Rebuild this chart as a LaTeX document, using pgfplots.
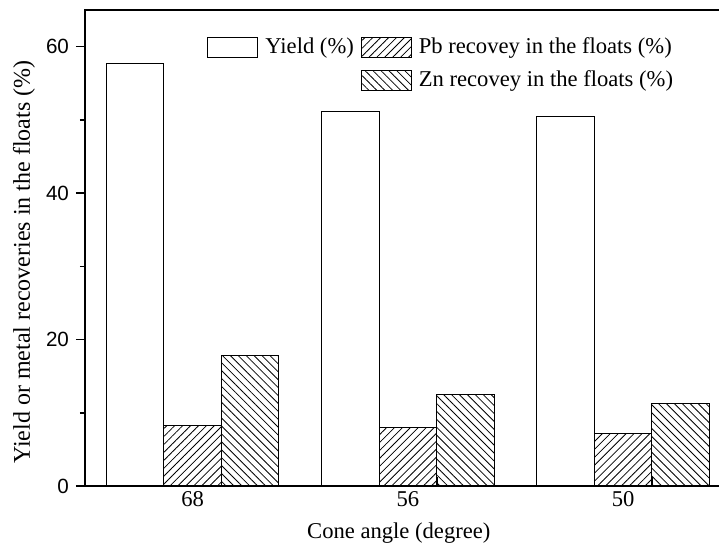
\documentclass[border=0pt]{standalone}
\usepackage{fontspec}
\setmainfont{Liberation Serif}
\newfontfamily\arialfont{Liberation Sans}
\usepackage{pgfplots}
\pgfplotsset{compat=1.18}
\usetikzlibrary{patterns.meta}

\begin{document}
\begin{tikzpicture}
\begin{axis}[
    name=ax,
    scale only axis,
    width=317pt, height=238pt,
    xmin=0.5, xmax=3.445,
    ymin=0, ymax=65,
    ybar, bar width=0.267,
    axis line style={draw=none},
    tick align=inside,
    major tick length=4.5pt,
    minor tick length=2.5pt,
    tick style={black, line width=0.8pt},
    ytick={0,20,40,60},
    minor y tick num=1,
    ytick pos=left,
    % y ticks point outwards
    major y tick style={xshift=-4.5pt},
    minor y tick style={xshift=-2.5pt},
    yticklabel style={font=\arialfont\fontsize{10.3}{11}\selectfont, xshift=-4.5pt},
    /pgf/number format/assume math mode=true,
    % Origin puts the x ticks between the 2nd and 3rd bar
    xtick={1.134,2.134,3.134},
    xticklabels={68,56,50},
    xtick pos=bottom,
    xticklabel style={font=\fontsize{11.3}{13}\selectfont, yshift=1pt, xshift=-14.4pt},
    xlabel={Cone angle (degree)},
    ylabel={Yield or metal recoveries in the floats (\%)},
    every axis x label/.style={at={(axis description cs:0.495,0)}, yshift=-23.5pt, anchor=center, font=\fontsize{11.3}{13}\selectfont},
    every axis y label/.style={at={(axis description cs:-0.0962,0.47)}, rotate=90, anchor=center, font=\fontsize{12}{14}\selectfont},
    legend columns=2,
    legend cell align=left,
    legend style={draw=none, fill=none, at={(axis description cs:0.1924,0.951)}, anchor=north west,
        inner sep=0pt, column sep=1.5pt, row sep=3pt, font=\fontsize{11.3}{13}\selectfont},
    legend image code/.code={\draw[#1] (0pt,-5pt) rectangle (25pt,5pt);},
]
\addplot[draw=black, line width=0.5pt, fill=white, bar shift=-0.267]
    coordinates {(1,57.7) (2,51.2) (3,50.5)};
\addlegendentry{Yield (\%)}
\addplot[draw=black, line width=0.5pt, pattern={Lines[angle=45,distance=2.8pt,line width=0.4pt]}, bar shift=0]
    coordinates {(1,8.2) (2,8.0) (3,7.15)};
\addlegendentry{Pb recovey in the floats (\%)}
\addlegendimage{empty legend}
\addlegendentry{}
\addplot[draw=black, line width=0.5pt, pattern={Lines[angle=-45,distance=2.8pt,line width=0.4pt]}, bar shift=0.267]
    coordinates {(1,17.8) (2,12.5) (3,11.3)};
\addlegendentry{Zn recovey in the floats (\%)}
\end{axis}
% spines: top, left, bottom (no right one)
\draw[line width=1pt] (ax.north east) -- (ax.north west) -- (ax.south west) -- (ax.south east);
\pgfresetboundingbox
\path ([shift={(-42.5pt,-29.5pt)}]ax.south west) rectangle ([shift={(0pt,5pt)}]ax.north east);
\end{tikzpicture}
\end{document}
